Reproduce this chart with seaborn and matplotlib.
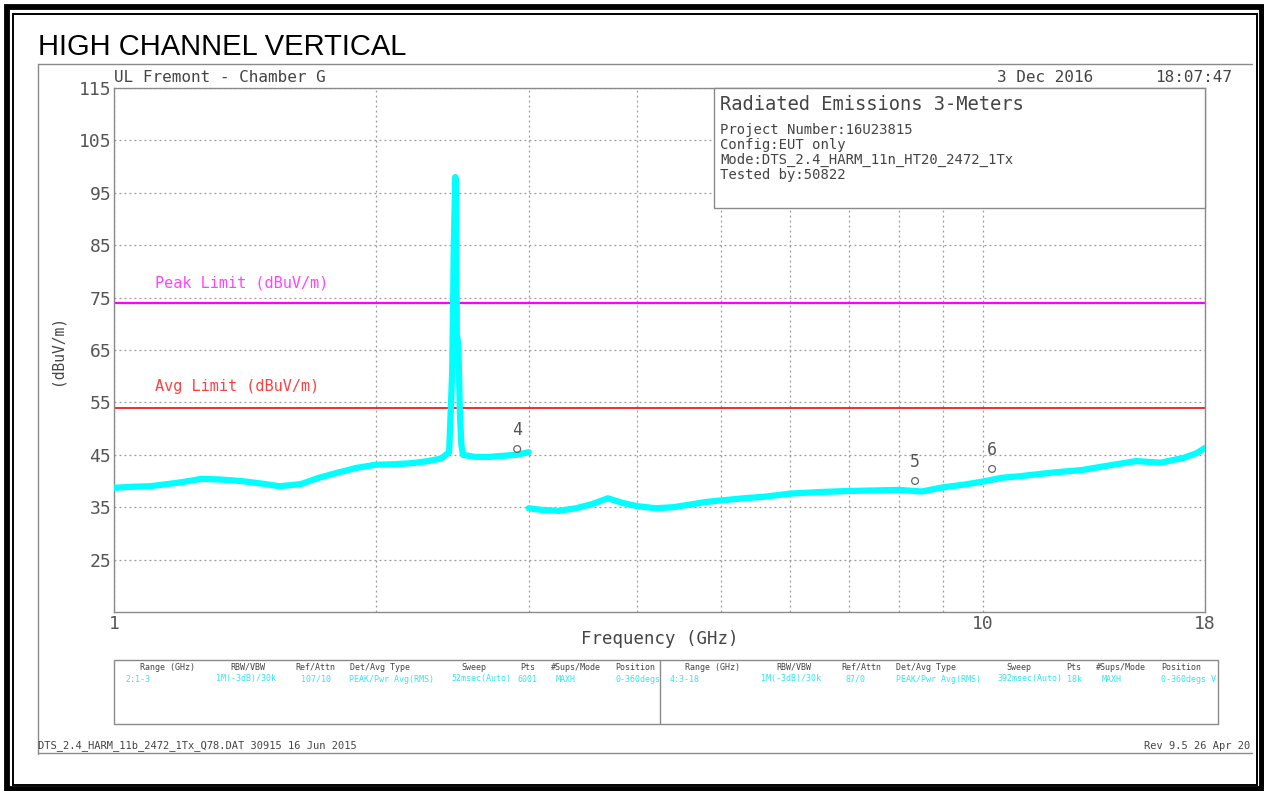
import numpy as np
import pandas as pd
import matplotlib
matplotlib.use('Agg')
import matplotlib.pyplot as plt
from matplotlib.lines import Line2D
from matplotlib.patches import Rectangle
import seaborn as sns

# --- data ---
freq_lo = [1.00, 1.05, 1.10, 1.15, 1.20, 1.26, 1.32, 1.40, 1.48, 1.55, 1.64, 1.72,
           1.80, 1.90, 2.00, 2.10, 2.20, 2.30, 2.38, 2.43, 2.45, 2.46, 2.47, 2.475,
           2.48, 2.49, 2.50, 2.51, 2.52, 2.60, 2.70, 2.80, 2.90, 3.00]
level_lo = [38.7, 38.9, 39.0, 39.4, 39.8, 40.4, 40.3, 40.0, 39.5, 39.0, 39.4, 40.6,
            41.5, 42.5, 43.1, 43.2, 43.4, 43.8, 44.3, 45.5, 61.0, 85.0, 98.0, 96.0,
            68.0, 66.0, 53.0, 47.0, 45.0, 44.6, 44.6, 44.8, 45.0, 45.5]

freq_hi = [3.00, 3.10, 3.25, 3.40, 3.55, 3.70, 3.85, 4.00, 4.20, 4.40, 4.60, 4.80,
           5.00, 5.30, 5.60, 6.00, 6.50, 7.00, 7.50, 8.00, 8.50, 9.00, 9.50, 10.0,
           10.5, 11.0, 12.0, 13.0, 14.0, 15.0, 16.0, 17.0, 17.6, 18.0]
level_hi = [34.8, 34.5, 34.3, 34.8, 35.6, 36.7, 35.8, 35.2, 34.8, 35.0, 35.5, 36.0,
            36.3, 36.7, 37.0, 37.6, 37.9, 38.1, 38.2, 38.3, 38.0, 38.8, 39.3, 39.9,
            40.6, 40.9, 41.6, 42.1, 43.0, 43.8, 43.5, 44.4, 45.3, 46.3]

marker_ids = ['4', '5', '6']
marker_freq = [2.91, 8.35, 10.24]
marker_level = [46.1, 40.0, 42.3]

peak_limit = 74
avg_limit = 54

y_ticks = [25, 35, 45, 55, 65, 75, 85, 95, 105, 115]
x_ticks = [1, 10, 18]
x_minor = [2, 3, 4, 5, 6, 7, 8, 9]

tbl_headers = ['Range (GHz)', 'RBW/VBW', 'Ref/Attn', 'Det/Avg Type', 'Sweep', 'Pts',
               '#Sups/Mode', 'Position']
tbl_left = ['2:1-3', '1M(-3dB)/30k', '107/10', 'PEAK/Pwr Avg(RMS)', '52msec(Auto)',
            '6001', 'MAXH', '0-360degs']
tbl_right = ['4:3-18', '1M(-3dB)/30k', '87/0', 'PEAK/Pwr Avg(RMS)', '392msec(Auto)',
             '18k', 'MAXH', '0-360degs V']

info_lines = ['Project Number:16U23815', 'Config:EUT only',
              'Mode:DTS_2.4_HARM_11n_HT20_2472_1Tx', 'Tested by:50822']

trace = pd.DataFrame({
    'freq': freq_lo + freq_hi,
    'level': level_lo + level_hi,
    'seg': ['lo'] * len(freq_lo) + ['hi'] * len(freq_hi),
})
marks = pd.DataFrame({'freq': marker_freq, 'level': marker_level, 'id': marker_ids})

sns.set_style('white')
plt.rcParams['font.family'] = ['DejaVu Sans Mono', 'DejaVu Sans']

W, H = 1264, 791
fig = plt.figure(figsize=(W / 100, H / 100), dpi=100)


def fx(x):
    return x / W


def fy(y):
    return 1 - y / H


def hline(x0, x1, y, **kw):
    fig.add_artist(Line2D([fx(x0), fx(x1)], [fy(y), fy(y)], transform=fig.transFigure, **kw))


def vline(x, y0, y1, **kw):
    fig.add_artist(Line2D([fx(x), fx(x)], [fy(y0), fy(y1)], transform=fig.transFigure, **kw))


def box(x0, y0, x1, y1, **kw):
    fig.add_artist(Rectangle((fx(x0), fy(y1)), fx(x1) - fx(x0), fy(y0) - fy(y1),
                             transform=fig.transFigure, fill=False, **kw))


TXT = '#444444'
GRAY = '#8a8a8a'
CYAN = '#00ffff'

# outer frame
box(7, 6.5, 1261.5, 789, lw=4.2, edgecolor='black')
box(13, 14, 1257, 785, lw=1.4, edgecolor='black')

# gray panel lines
vline(38, 64, 754, lw=1.0, color=GRAY)
hline(38, 1252, 64, lw=1.0, color=GRAY)
hline(38, 1252, 753, lw=1.0, color=GRAY)

fig.text(fx(38), fy(47), 'HIGH CHANNEL VERTICAL', family='Liberation Sans', fontsize=21,
         color='black', va='center', ha='left')

# main axes
ax = fig.add_axes([fx(114), fy(612), fx(1205) - fx(114), fy(88) - fy(612)])
ax.set_xscale('log')

sns.lineplot(data=trace, x='freq', y='level', units='seg', estimator=None, sort=False,
             color=CYAN, lw=4.5, ax=ax, zorder=3)
ax.axhline(peak_limit, color='#ff00ff', lw=1.6, zorder=2)
ax.axhline(avg_limit, color='#e82020', lw=1.3, zorder=2)
sns.scatterplot(data=marks, x='freq', y='level', marker='o', s=24, facecolors='none',
                edgecolor='#666666', linewidth=0.9, ax=ax, zorder=4)
for _, r in marks.iterrows():
    ax.annotate(r['id'], (r['freq'], r['level']), xytext=(0, 7), textcoords='offset points',
                ha='center', va='bottom', fontsize=12, color='#555555')

ax.text(1.115, peak_limit + 3.8, 'Peak Limit (dBuV/m)', color='#ff44ff', fontsize=11,
        va='center', ha='left')
ax.text(1.115, avg_limit + 4.0, 'Avg Limit (dBuV/m)', color='#ff4040', fontsize=11,
        va='center', ha='left')

ax.set_xlim(1, 18)
ax.set_ylim(15, 115)
ax.set_xticks(x_ticks)
ax.set_xticklabels([str(t) for t in x_ticks])
ax.set_xticks(x_minor, minor=True)
ax.set_xticklabels([], minor=True)
ax.set_yticks(y_ticks)
ax.tick_params(which='both', length=0, labelsize=13, labelcolor='#555555')
ax.tick_params(axis='y', pad=2)
ax.tick_params(axis='x', pad=2)
ax.grid(which='both', color='#999999', ls=(0, (1.5, 2.5)), lw=0.9)
for s in ax.spines.values():
    s.set_color(GRAY)
    s.set_linewidth(1.0)
ax.set_xlabel('Frequency (GHz)', fontsize=12.5, color=TXT, labelpad=-2)
ax.set_ylabel('(dBuV/m)', fontsize=10.5, color=TXT, labelpad=10)
ax.set_axisbelow(True)

# info box in the plot corner
fig.add_artist(Rectangle((fx(714), fy(208)), fx(1205) - fx(714), fy(88) - fy(208),
                         transform=fig.transFigure, facecolor='white', edgecolor=GRAY,
                         lw=1.0, zorder=5))
fig.text(fx(720), fy(104), 'Radiated Emissions 3-Meters', fontsize=13.5, color=TXT,
         va='center', ha='left', zorder=6)
for i, line in enumerate(info_lines):
    fig.text(fx(720), fy(130 + 15 * i), line, fontsize=10, color=TXT, va='center',
             ha='left', zorder=6)

fig.text(fx(114), fy(77), 'UL Fremont - Chamber G', fontsize=11.5, color=TXT,
         va='center', ha='left')
fig.text(fx(997), fy(77), '3 Dec 2016', fontsize=11.5, color=TXT, va='center', ha='left')
fig.text(fx(1232), fy(77), '18:07:47', fontsize=11.5, color=TXT, va='center', ha='right')

# settings table
box(114, 660, 1218, 724, lw=1.0, edgecolor=GRAY)
vline(660, 660, 724, lw=1.0, color=GRAY)
head_x_l = [140, 230, 295, 350, 461, 520, 551, 615]
val_x_l = [125, 216, 301, 349, 451, 517, 556, 615]
head_x_r = [685, 776, 841, 896, 1006, 1066, 1096, 1161]
val_x_r = [670, 761, 845, 896, 997, 1067, 1102, 1161]
for hx, vx, h, v in zip(head_x_l, val_x_l, tbl_headers, tbl_left):
    fig.text(fx(hx), fy(667), h, fontsize=6, color=TXT, va='center', ha='left')
    fig.text(fx(vx), fy(679), v, fontsize=6, color='#33e6f0', va='center', ha='left')
for hx, vx, h, v in zip(head_x_r, val_x_r, tbl_headers, tbl_right):
    fig.text(fx(hx), fy(667), h, fontsize=6, color=TXT, va='center', ha='left')
    fig.text(fx(vx), fy(679), v, fontsize=6, color='#33e6f0', va='center', ha='left')

fig.text(fx(38), fy(746), 'DTS_2.4_HARM_11b_2472_1Tx_Q78.DAT 30915 16 Jun 2015',
         fontsize=7.5, color=TXT, va='center', ha='left')
fig.text(fx(1250), fy(746), 'Rev 9.5 26 Apr 20', fontsize=7.5, color=TXT,
         va='center', ha='right')

fig.savefig('out.png', dpi=100)
